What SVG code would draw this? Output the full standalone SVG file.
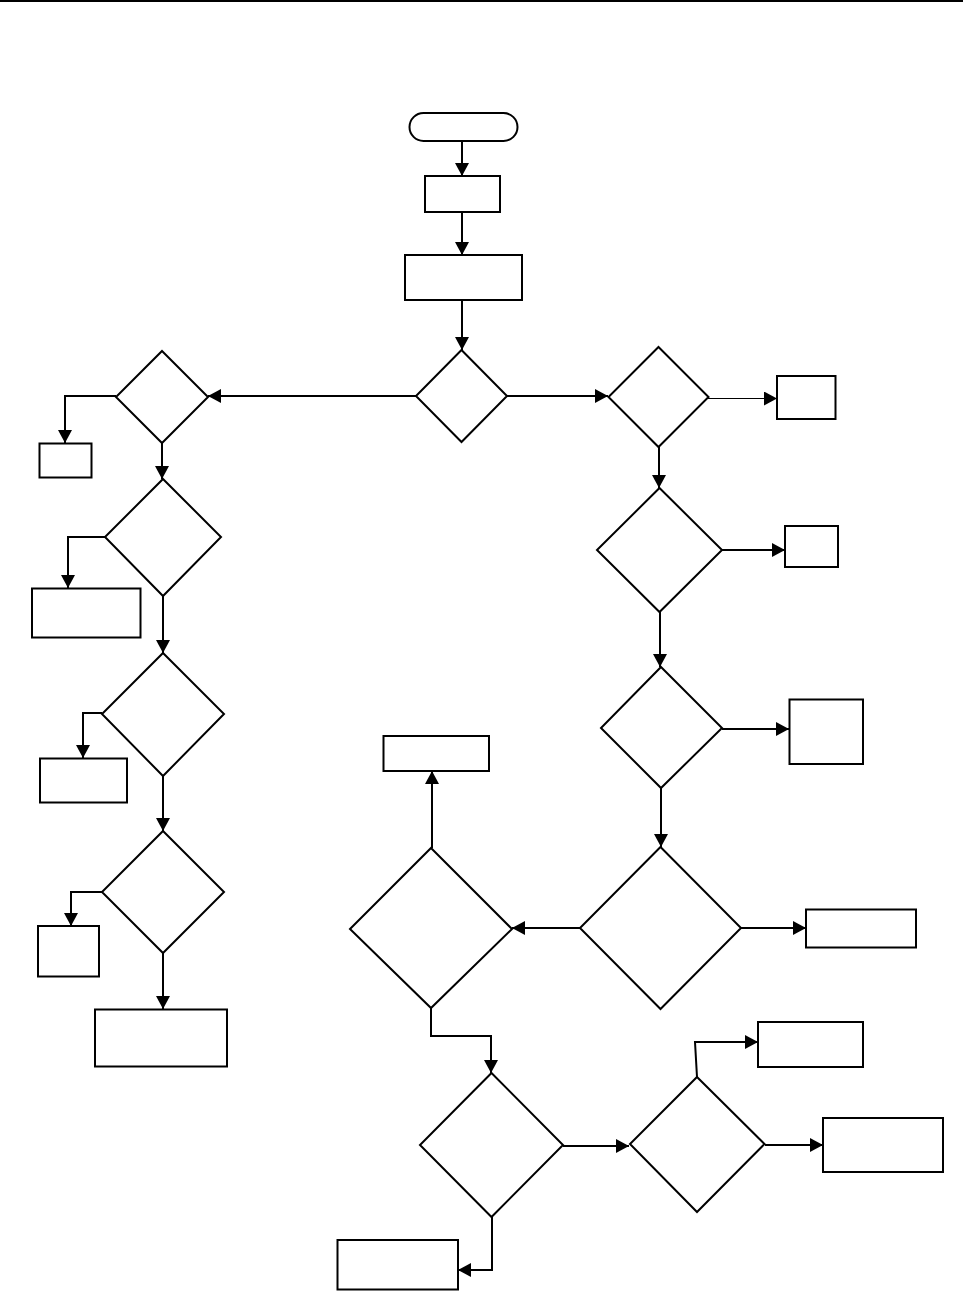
<svg xmlns="http://www.w3.org/2000/svg" width="963" height="1291" viewBox="0 0 963 1291">
<style>
.n{fill:#fff;stroke:#000;stroke-width:2}
.c{fill:none;stroke:#000;stroke-width:2;marker-end:url(#ah)}
.t{stroke-width:1}
</style>
<defs>
<marker id="ah" markerUnits="userSpaceOnUse" markerWidth="14" markerHeight="14" refX="13" refY="7" orient="auto">
<path d="M0,0 L13,7 L0,14 z" fill="#000"/>
</marker>
</defs>
<rect x="0" y="0" width="963" height="2" fill="#000"/>
<g id="connectors">
<path class="c" d="M462,141 V176"/>
<path class="c" d="M462,212 V255"/>
<path class="c" d="M462,300 V350"/>
<path class="c" d="M416,396 H208"/>
<path class="c" d="M507,396 H608"/>
<path class="c" d="M116,396 H65 V443"/>
<path class="c" d="M162,442 V479"/>
<path class="c" d="M105,537 H68 V588"/>
<path class="c" d="M163,596 V653"/>
<path class="c" d="M102,713 H83 V758"/>
<path class="c" d="M163,776 V831"/>
<path class="c" d="M102,892 H71 V926"/>
<path class="c" d="M163,953 V1009"/>
<path class="c t" d="M708,398.5 H777"/>
<path class="c" d="M659,447 V488"/>
<path class="c" d="M722,550 H785"/>
<path class="c" d="M660,612 V667"/>
<path class="c" d="M722,729 H789"/>
<path class="c" d="M661,787 V847"/>
<path class="c" d="M741,928 H806"/>
<path class="c" d="M580,928 H512"/>
<path class="c" d="M432,848 V771"/>
<path class="c" d="M431,1008 V1036 H491 V1073"/>
<path class="c" d="M563,1146 H629"/>
<path class="c" d="M697,1077 L695,1042 H758"/>
<path class="c" d="M765,1145 H823"/>
<path class="c" d="M492,1217 V1270 H458"/>
</g>
<g id="start"><rect class="n" x="409.5" y="113" width="108" height="28" rx="14"/></g>
<g id="box1"><rect class="n" x="425" y="176" width="75" height="36"/></g>
<g id="box2"><rect class="n" x="405" y="255" width="117" height="45"/></g>
<g id="d0"><polygon class="n" points="461.5,350 507,396 461.5,442 416,396"/></g>
<g id="dL1"><polygon class="n" points="162,351 208,397 162,443 116,397"/></g>
<g id="bL1"><rect class="n" x="39.5" y="443.5" width="52" height="34"/></g>
<g id="dL2"><polygon class="n" points="163,479 221,537 163,596 105,537"/></g>
<g id="bL2"><rect class="n" x="32" y="588.5" width="108.5" height="49"/></g>
<g id="dL3"><polygon class="n" points="163,653 224,714 163,776 102,714"/></g>
<g id="bL3"><rect class="n" x="40" y="758.5" width="87" height="44"/></g>
<g id="dL4"><polygon class="n" points="163,831 224,892 163,953 102,892"/></g>
<g id="bL4"><rect class="n" x="38" y="926" width="61" height="50.5"/></g>
<g id="bL5"><rect class="n" x="95" y="1009.5" width="132" height="57"/></g>
<g id="dRA"><polygon class="n" points="658.5,347 708.5,397 658.5,447 608.5,397"/></g>
<g id="bRA"><rect class="n" x="777" y="376" width="58.5" height="43"/></g>
<g id="dRB"><polygon class="n" points="659.5,488 722,550 659.5,612 597,550"/></g>
<g id="bRB"><rect class="n" x="785" y="526" width="53" height="41"/></g>
<g id="dRC"><polygon class="n" points="661,667 722,728 661,788 601,728"/></g>
<g id="bRC"><rect class="n" x="789.5" y="699.5" width="73.5" height="64.5"/></g>
<g id="dRD"><polygon class="n" points="660.5,847 741,928 660.5,1009 580,928"/></g>
<g id="bRD"><rect class="n" x="806" y="909.5" width="110" height="38"/></g>
<g id="dE"><polygon class="n" points="431,848 512,929 431,1008 350,929"/></g>
<g id="bE"><rect class="n" x="383.5" y="736" width="105.5" height="35"/></g>
<g id="dF"><polygon class="n" points="491.5,1073 563,1145 491.5,1217 420,1145"/></g>
<g id="bF"><rect class="n" x="337.5" y="1240" width="120.5" height="49.5"/></g>
<g id="dG"><polygon class="n" points="697,1077 764.5,1144 697,1212 630,1144"/></g>
<g id="bG1"><rect class="n" x="758" y="1022" width="105" height="45"/></g>
<g id="bG2"><rect class="n" x="823" y="1118" width="120" height="54"/></g>
</svg>
